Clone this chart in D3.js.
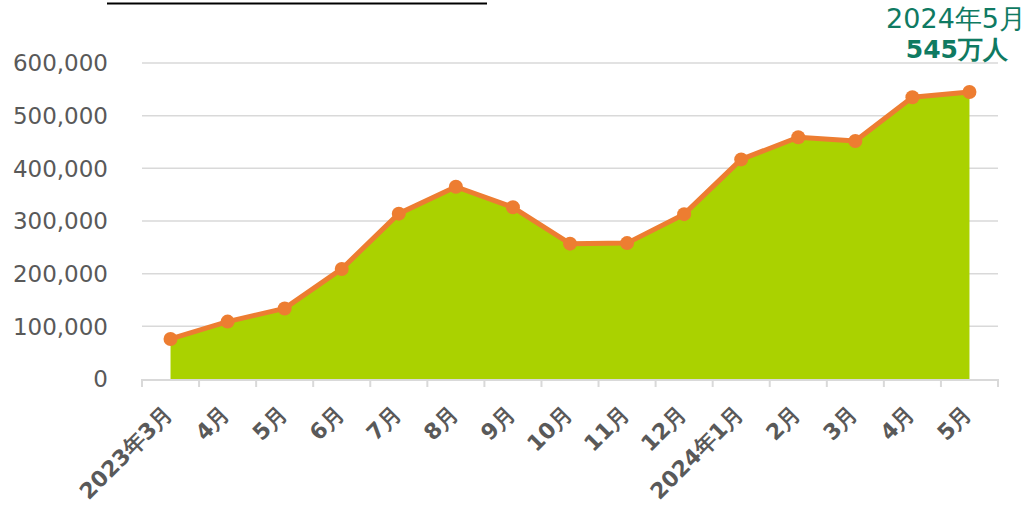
<!DOCTYPE html>
<html>
<head>
<meta charset="utf-8">
<script src="https://cdn.jsdelivr.net/npm/d3@7"></script>
<style>
  body { margin: 0; background: #fff; }
  svg { display: block; font-family: "DejaVu Sans", Verdana, sans-serif; }
</style>
</head>
<body>
<div class="graph-container"></div>
<script>
const months = ['2023年3月', '4月', '5月', '6月', '7月', '8月', '9月', '10月', '11月', '12月',
    '2024年1月', '2月', '3月', '4月', '5月'];
const users = [76000, 109000, 134000, 209000, 314000, 365000, 326000, 257000, 258000, 313000,
    417000, 459000, 452000, 535000, 545000];
const yTicks = [0, 100000, 200000, 300000, 400000, 500000, 600000];
const calloutDate = '2024年5月';
const calloutValue = '545万人';

const width = 1027;
const height = 513;
const margin = { left: 142, right: 29, top: 63, bottom: 134 };

const svg = d3.select('div.graph-container')
    .append('svg')
    .attr('width', width)
    .attr('height', height);

const x = d3.scaleBand()
    .domain(months.map((d, i) => i))
    .range([margin.left, width - margin.right]);

const y = d3.scaleLinear()
    .domain([0, 600000])
    .range([height - margin.bottom, margin.top]);

const cx = i => x(i) + x.bandwidth() / 2;

// cropped title underline at the very top
svg.append('line')
    .attr('x1', 107).attr('x2', 487)
    .attr('y1', 3.5).attr('y2', 3.5)
    .attr('stroke', '#000')
    .attr('stroke-width', 2);

// gridlines
svg.append('g')
    .selectAll('line')
    .data(yTicks.filter(d => d > 0))
    .enter()
    .append('line')
    .attr('x1', margin.left)
    .attr('x2', width - margin.right)
    .attr('y1', d => y(d))
    .attr('y2', d => y(d))
    .attr('stroke', '#d9d9d9')
    .attr('stroke-width', 1.5);

// y labels
svg.append('g')
    .selectAll('text')
    .data(yTicks)
    .enter()
    .append('text')
    .attr('x', 108)
    .attr('y', d => y(d))
    .attr('dy', '0.36em')
    .attr('text-anchor', 'end')
    .attr('fill', '#595959')
    .attr('font-size', '23px')
    .text(d => d3.format(',')(d));

// area
const area = d3.area()
    .x((d, i) => cx(i))
    .y0(y(0))
    .y1(d => y(d));

svg.append('path')
    .datum(users)
    .attr('d', area)
    .attr('fill', '#aad200');

// x axis
const xAxis = svg.append('g');
xAxis.append('line')
    .attr('x1', margin.left)
    .attr('x2', width - margin.right)
    .attr('y1', y(0) + 1)
    .attr('y2', y(0) + 1)
    .attr('stroke', '#d9d9d9')
    .attr('stroke-width', 2);

xAxis.selectAll('line.tick')
    .data(d3.range(months.length + 1))
    .enter()
    .append('line')
    .attr('class', 'tick')
    .attr('x1', i => margin.left + i * x.step())
    .attr('x2', i => margin.left + i * x.step())
    .attr('y1', y(0))
    .attr('y2', y(0) + 8)
    .attr('stroke', '#d9d9d9')
    .attr('stroke-width', 2);

xAxis.selectAll('text')
    .data(months)
    .enter()
    .append('text')
    .attr('transform', (d, i) => `translate(${cx(i) - 2}, ${y(0) + 31}) rotate(-45)`)
    .attr('text-anchor', 'end')
    .attr('dy', '0.35em')
    .attr('fill', '#595959')
    .attr('font-size', '22px')
    .attr('font-weight', 'bold')
    .text(d => d);

// line + markers
const line = d3.line()
    .x((d, i) => cx(i))
    .y(d => y(d));

svg.append('path')
    .datum(users)
    .attr('d', line)
    .attr('fill', 'none')
    .attr('stroke', '#ed7d31')
    .attr('stroke-width', 5)
    .attr('stroke-linejoin', 'round');

svg.append('g')
    .selectAll('circle')
    .data(users)
    .enter()
    .append('circle')
    .attr('cx', (d, i) => cx(i))
    .attr('cy', d => y(d))
    .attr('r', 7)
    .attr('fill', '#ed7d31');

// callout
svg.append('text')
    .attr('x', 1026)
    .attr('y', 28)
    .attr('text-anchor', 'end')
    .attr('fill', '#0f7a62')
    .attr('font-size', '27px')
    .text(calloutDate);

svg.append('text')
    .attr('x', 1008)
    .attr('y', 58)
    .attr('text-anchor', 'end')
    .attr('fill', '#0f7a62')
    .attr('font-size', '25px')
    .attr('font-weight', 'bold')
    .text(calloutValue);
</script>
</body>
</html>
